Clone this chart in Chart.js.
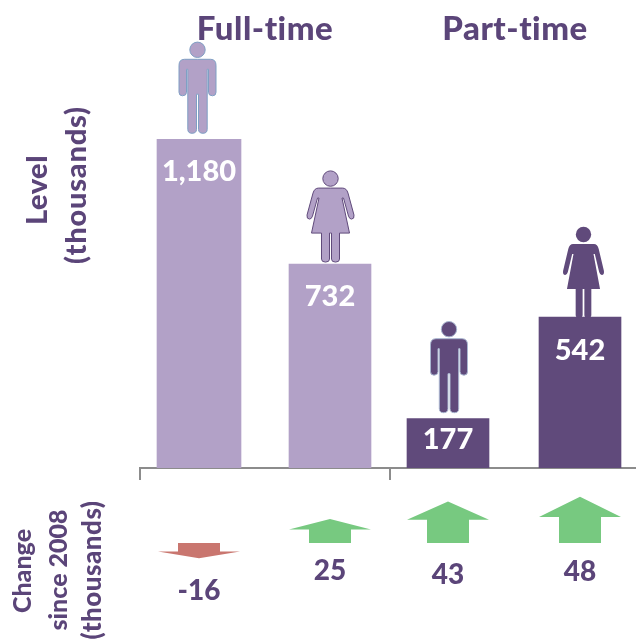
<!DOCTYPE html>
<html>
<head>
<meta charset="utf-8">
<style>html,body{margin:0;padding:0;background:#fff}canvas{display:block}</style>
<script src="https://cdn.jsdelivr.net/npm/chart.js@4/dist/chart.umd.js"></script>
</head>
<body>
<canvas id="c" width="636" height="641"></canvas>
<script>
const categories = ["Full-time men", "Full-time women", "Part-time men", "Part-time women"];
const levels = [1180, 732, 177, 542];
const changes = [-16, 25, 43, 48];
const groupNames = ["Full-time", "Part-time"];

// layout (not data)
const FONT = 'Lato, "Open Sans", sans-serif';
const TEXT = '#5b4579', LIGHT = '#b2a1c7', DARK = '#604a7b', UP = '#77c980', DOWN = '#c9766f';
const centres = [199, 330, 448, 580];
const widths = [84, 82, 82, 82];
const fills = [LIGHT, LIGHT, DARK, DARK];
const dividers = [140, 390];
const figures = [
  {kind:'man',   dx:-1.5, gap:6, sx:1,    stroke:'#7f9fc4'},
  {kind:'woman', dx:0.5,  gap:2, sx:1,    stroke:'#604a7b'},
  {kind:'man',   dx:1,    gap:6, sx:1,    stroke:'#a9b6d0'},
  {kind:'woman', dx:3.5,  gap:-1,sx:0.87, stroke:null}
];
const valueOffsets = [32, 33, 21, 34];
const changeLabelY = [591, 571, 575, 572];

function mirrorPath(ctx, half, sx) {
  ctx.beginPath();
  ctx.moveTo(0, half[0][1]);
  const run = (sign, list) => list.forEach(s => {
    if (s.length === 2) ctx.lineTo(sign * s[0] * sx, s[1]);
    else ctx.quadraticCurveTo(sign * s[0] * sx, s[1], sign * s[2] * sx, s[3]);
  });
  run(1, half);
  const back = [];
  for (let i = half.length - 1; i > 0; i--) {
    const cur = half[i], prevEnd = half[i-1].slice(-2);
    if (cur.length === 2) back.push(prevEnd);
    else back.push([cur[0], cur[1], prevEnd[0], prevEnd[1]]);
  }
  run(-1, back);
  ctx.closePath();
}
const manBody = [
  [0,-74],[-13,-74],[-18.5,-74,-18.5,-68],[-18.5,-41],[-18.5,-37.5,-15,-37.5],
  [-11,-37.5,-11,-41],[-11,-64],[-9.7,-64],[-9.7,-4],[-9.7,0,-5.5,0],[-1,0,-1,-4],[-1,-39],[0,-39]
];
const womanBody = [
  [0,-74],[-12,-74],[-16,-74,-17.5,-69],[-23.5,-47],[-24,-43,-21,-43],[-19,-43,-18,-46],
  [-13,-64],[-11.5,-64],[-19,-29],[-9,-29],[-9,-3],[-9,0,-5,0],[-1,0,-1,-3],[-1,-29],[0,-29]
];
function drawFigure(ctx, f, x, bottom, fill) {
  ctx.save();
  ctx.translate(x, bottom);
  ctx.fillStyle = fill;
  ctx.strokeStyle = f.stroke || fill;
  ctx.lineWidth = 1;
  ctx.beginPath();
  ctx.arc(0, -83.5, 7.7, 0, Math.PI * 2);
  ctx.fill();
  if (f.stroke) ctx.stroke();
  mirrorPath(ctx, f.kind === 'man' ? manBody : womanBody, f.sx);
  ctx.fill();
  if (f.stroke) ctx.stroke();
  ctx.restore();
}
function drawArrow(ctx, x, y0, y1, color) {
  const hw = 41, sw = 21, dir = y1 < y0 ? -1 : 1, h = Math.abs(y1 - y0);
  const wing = y1 - dir * h * 0.44;
  ctx.fillStyle = color;
  ctx.beginPath();
  ctx.moveTo(x, y1);
  ctx.lineTo(x + hw, wing);
  ctx.lineTo(x + sw, wing);
  ctx.lineTo(x + sw, y0);
  ctx.lineTo(x - sw, y0);
  ctx.lineTo(x - sw, wing);
  ctx.lineTo(x - hw, wing);
  ctx.closePath();
  ctx.fill();
}
function text(ctx, s, x, y, size, color, rot, spacing) {
  ctx.save();
  ctx.translate(x, y);
  if (rot) ctx.rotate(-Math.PI / 2);
  ctx.font = `900 ${size}px ${FONT}`;
  ctx.letterSpacing = (spacing || 0) + 'px';
  ctx.fillStyle = color;
  ctx.textAlign = 'center';
  ctx.textBaseline = 'middle';
  ctx.fillText(s, 0, 0);
  ctx.restore();
}
const decorate = {
  id: 'decorate',
  afterDatasetsDraw(chart) {
    const ctx = chart.ctx;
    levels.forEach((v, i) => {
      const bar = chart.getDatasetMeta(i).data[0];
      drawFigure(ctx, figures[i], bar.x + figures[i].dx, bar.y - figures[i].gap, fills[i]);
      text(ctx, v.toLocaleString('en-US'), bar.x, bar.y + valueOffsets[i], 29, '#fff');
    });
    const pts = chart.getDatasetMeta(levels.length).data;
    const zero = chart.scales.yChange.getPixelForValue(0);
    changes.forEach((v, i) => {
      drawArrow(ctx, pts[i].x, zero, pts[i].y, v < 0 ? DOWN : UP);
      text(ctx, String(v), pts[i].x, changeLabelY[i], 28, TEXT);
    });
    groupNames.forEach((g, i) => text(ctx, g, [265, 515][i], 29, 33, TEXT, false, 0.5));
    text(ctx, 'Level', 38, 190, 29, TEXT, true, 0.5);
    text(ctx, '(thousands)', 77, 185, 29, TEXT, true, 0.8);
    text(ctx, 'Change', 23, 571, 25, TEXT, true);
    text(ctx, 'since 2008', 59, 570, 25, TEXT, true);
    text(ctx, '(thousands)', 93, 570, 26, TEXT, true, 0.5);
  }
};
const datasets = categories.map((c, i) => ({
  label: c,
  data: [{x: centres[i], y: levels[i]}],
  backgroundColor: fills[i],
  barThickness: widths[i],
  grouped: false,
  order: 1
}));
datasets.push({
  type: 'scatter',
  label: 'Change since 2008',
  data: changes.map((v, i) => ({x: centres[i], y: v})),
  yAxisID: 'yChange',
  pointRadius: 0,
  showLine: false
});
new Chart(document.getElementById('c'), {
  type: 'bar',
  data: {datasets},
  plugins: [decorate],
  options: {
    responsive: false,
    animation: false,
    events: [],
    layout: {padding: {left: 140, right: 0, top: 0, bottom: 161}},
    plugins: {legend: {display: false}, tooltip: {enabled: false}},
    scales: {
      x: {
        type: 'linear', min: 140, max: 636, offset: false,
        afterBuildTicks(s) { s.ticks = dividers.map(value => ({value})); },
        ticks: {display: false},
        grid: {offset: false, drawOnChartArea: false, drawTicks: true, tickLength: 12, color: '#8c8c8c', lineWidth: 2, tickColor: '#8c8c8c', tickWidth: 2},
        border: {display: true, color: '#8c8c8c', width: 2}
      },
      y: {display: false, min: 0, max: 1680},
      yChange: {display: false, min: 78, max: 565.5}
    }
  }
});
</script>
</body>
</html>
